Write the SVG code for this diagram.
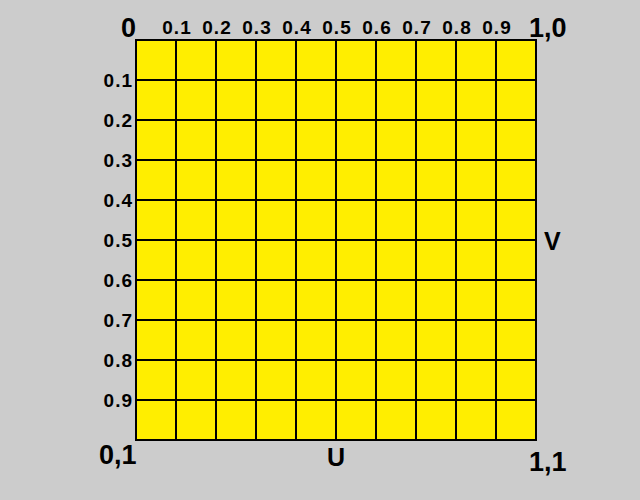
<svg xmlns="http://www.w3.org/2000/svg" width="640" height="500" viewBox="0 0 640 500">
<style>
.t{font-family:"Liberation Sans",Arial,sans-serif;font-weight:bold;fill:#000}
.s{font-size:19px;letter-spacing:1px}
.b{font-size:27px}
.m{font-size:25px}
.g{stroke:#000;stroke-width:2;fill:none}
</style>
<rect width="640" height="500" fill="#cccccc"/>
<g id="grid">
<rect x="136" y="40" width="400" height="400" fill="#ffee00"/>
<path class="g" d="M176 40V440M216 40V440M256 40V440M296 40V440M336 40V440M376 40V440M416 40V440M456 40V440M496 40V440M136 80H536M136 120H536M136 160H536M136 200H536M136 240H536M136 280H536M136 320H536M136 360H536M136 400H536"/>
<rect class="g" x="136" y="40" width="400" height="400"/>
</g>
<g id="top-labels" class="t s" text-anchor="middle">
<text x="177" y="34">0.1</text><text x="217" y="34">0.2</text><text x="257" y="34">0.3</text><text x="297" y="34">0.4</text><text x="337" y="34">0.5</text><text x="377" y="34">0.6</text><text x="417" y="34">0.7</text><text x="457" y="34">0.8</text><text x="497" y="34">0.9</text>
</g>
<g id="left-labels" class="t s" text-anchor="end">
<text x="133" y="87">0.1</text><text x="133" y="127">0.2</text><text x="133" y="167">0.3</text><text x="133" y="207">0.4</text><text x="133" y="247">0.5</text><text x="133" y="287">0.6</text><text x="133" y="327">0.7</text><text x="133" y="367">0.8</text><text x="133" y="407">0.9</text>
</g>
<g id="corners">
<text class="t b" x="121" y="37">0</text>
<text class="t b" x="529" y="37">1,0</text>
<text class="t b" x="99" y="464">0,1</text>
<text class="t b" x="529" y="471">1,1</text>
<text class="t m" x="336" y="466" text-anchor="middle">U</text>
<text class="t m" x="544" y="250">V</text>
</g>
</svg>
